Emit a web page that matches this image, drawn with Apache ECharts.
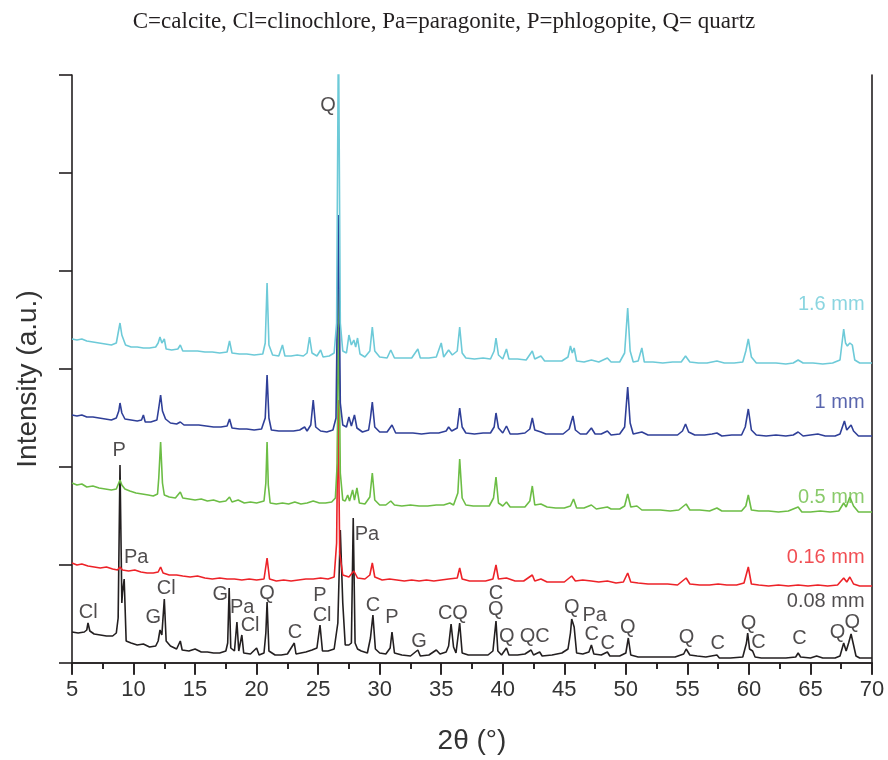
<!DOCTYPE html>
<html>
<head>
<meta charset="utf-8">
<script src="https://cdn.jsdelivr.net/npm/echarts@6/dist/echarts.min.js"></script>
<style>html,body{margin:0;padding:0;background:#fff}#c{width:888px;height:760px}</style>
</head>
<body>
<div id="c"></div>
<script>
const xTicks = [5,10,15,20,25,30,35,40,45,50,55,60,65,70];
const seriesNames = ['0.08 mm','0.16 mm','0.5 mm','1 mm','1.6 mm'];

const s008 = [[5.0,31],[5.5,30],[6.0,31],[6.2,33],[6.3,40],[6.45,32],[6.8,29],[7.3,28],[7.8,27],[8.3,27],[8.6,30],[8.75,45],[8.9,198],[9.05,60],[9.1,70],[9.24,84],[9.4,22],[9.8,20],[10.3,18],[10.8,19],[11.3,16],[11.8,17],[12.0,22],[12.15,33],[12.3,28],[12.5,64],[12.65,22],[13.0,17],[13.5,14],[13.8,22],[13.95,13],[14.5,12],[15.0,14],[15.5,11],[16.0,11],[16.5,10],[17.0,10],[17.5,12],[17.65,20],[17.77,75],[17.9,15],[18.2,12],[18.4,41],[18.55,12],[18.8,28],[18.95,10],[19.5,9],[20.0,15],[20.2,8],[20.6,10],[20.75,30],[20.85,61],[21.0,12],[21.5,8],[22.0,8],[22.5,9],[23.06,20],[23.2,9],[23.6,10],[24.0,11],[24.5,13],[24.9,15],[25.15,38],[25.35,12],[25.8,12],[26.3,14],[26.6,40],[26.8,133],[27.0,60],[27.2,18],[27.5,18],[27.7,20],[27.85,145],[28.0,20],[28.2,14],[28.5,12],[29.0,10],[29.25,25],[29.45,48],[29.65,14],[30.0,10],[30.5,9],[30.85,15],[31.0,31],[31.2,10],[31.8,8],[32.5,7],[33.1,13],[33.3,7],[34.0,8],[34.6,13],[34.9,9],[35.4,11],[35.6,17],[35.8,39],[36.0,16],[36.2,10],[36.5,40],[36.7,10],[37.2,8],[38.0,8],[38.8,8],[39.2,12],[39.45,42],[39.6,12],[39.9,8],[40.3,15],[40.5,8],[41.2,8],[41.8,9],[42.3,13],[42.5,8],[43.0,11],[43.2,7],[44.0,8],[44.8,10],[45.3,14],[45.5,30],[45.6,44],[45.8,36],[46.0,10],[46.5,9],[47.0,11],[47.2,18],[47.4,9],[48.0,8],[48.5,11],[48.7,7],[49.5,7],[50.0,10],[50.2,25],[50.4,8],[51.0,6],[52.0,6],[53.0,6],[54.0,6],[54.7,9],[54.9,14],[55.2,8],[55.8,7],[56.5,6],[57.4,8],[57.6,5],[58.5,5],[59.5,6],[59.8,20],[59.9,30],[60.05,14],[60.3,12],[60.5,6],[61.0,5],[62.0,5],[63.0,5],[63.8,6],[64.0,10],[64.2,6],[65.0,5],[65.5,7],[66.0,5],[67.0,5],[67.4,7],[67.7,20],[67.9,12],[68.1,20],[68.3,29],[68.5,18],[68.7,7],[69.0,5],[69.5,5],[70.0,5]];

const s016 = [[5.0,100],[5.4,98],[5.8,99],[6.3,97],[6.8,96],[7.3,95],[7.8,96],[8.3,94],[8.7,93],[8.9,96],[9.1,93],[9.6,92],[10.1,93],[10.6,91],[11.1,90],[11.6,90],[12.0,91],[12.2,96],[12.4,90],[12.9,88],[13.5,88],[14.0,87],[14.6,86],[15.2,87],[15.8,85],[16.4,84],[17.0,85],[17.6,84],[18.2,84],[18.8,83],[19.4,84],[20.0,83],[20.6,84],[20.85,105],[21.05,84],[21.6,82],[22.2,83],[22.8,82],[23.4,83],[24.0,84],[24.6,84],[25.2,85],[25.8,84],[26.3,86],[26.5,120],[26.62,263],[26.75,110],[27.0,88],[27.5,86],[27.9,92],[28.2,85],[28.8,84],[29.2,88],[29.4,100],[29.6,86],[30.2,83],[30.8,84],[31.4,83],[32.0,82],[32.6,83],[33.2,82],[33.8,83],[34.4,82],[35.0,83],[35.6,84],[36.3,85],[36.5,95],[36.7,84],[37.3,82],[38.0,82],[38.6,82],[39.2,84],[39.45,98],[39.65,84],[40.3,85],[41.0,82],[41.7,82],[42.4,88],[42.6,82],[43.1,84],[43.6,81],[44.3,81],[45.0,81],[45.6,87],[45.9,82],[46.5,83],[47.2,82],[47.8,81],[48.5,82],[49.2,80],[49.8,81],[50.15,90],[50.4,81],[51.0,80],[51.8,79],[52.6,79],[53.4,79],[54.2,78],[54.9,85],[55.2,79],[56.0,78],[56.8,78],[57.5,79],[58.2,78],[59.0,78],[59.6,80],[59.95,96],[60.2,79],[60.8,78],[61.6,77],[62.4,78],[63.2,77],[64.0,78],[64.8,77],[65.6,78],[66.4,77],[67.2,78],[67.7,85],[67.95,81],[68.2,86],[68.5,79],[69.0,77],[69.5,77],[70.0,77]];

const s05 = [[5.0,180],[5.4,178],[5.8,179],[6.2,176],[6.7,177],[7.2,175],[7.7,174],[8.2,173],[8.6,174],[8.8,180],[8.9,183],[9.05,178],[9.3,174],[9.7,172],[10.2,170],[10.7,169],[11.2,168],[11.6,167],[11.95,169],[12.05,185],[12.2,221],[12.35,180],[12.5,168],[12.9,166],[13.4,165],[13.8,171],[14.0,165],[14.5,164],[15.0,163],[15.5,164],[16.0,162],[16.5,163],[17.0,161],[17.5,162],[17.8,166],[18.0,161],[18.5,163],[19.0,160],[19.5,161],[20.0,160],[20.6,162],[20.75,180],[20.85,221],[20.95,178],[21.1,160],[21.6,159],[22.1,160],[22.6,159],[23.1,161],[23.6,159],[24.1,160],[24.6,162],[25.1,160],[25.6,160],[26.1,161],[26.4,165],[26.55,200],[26.65,373],[26.8,190],[27.0,163],[27.2,162],[27.4,168],[27.55,162],[27.8,173],[27.95,163],[28.15,175],[28.35,160],[28.8,159],[29.2,166],[29.4,190],[29.6,163],[30.0,158],[30.5,158],[30.9,162],[31.2,158],[31.8,157],[32.5,158],[33.2,157],[33.9,157],[34.6,158],[35.2,158],[35.7,160],[36.0,158],[36.35,170],[36.5,204],[36.7,165],[37.0,158],[37.6,157],[38.3,157],[38.9,157],[39.25,165],[39.45,186],[39.65,160],[40.0,157],[40.3,161],[40.6,156],[41.2,156],[41.8,156],[42.2,162],[42.4,177],[42.6,158],[43.1,159],[43.6,156],[44.3,155],[45.0,155],[45.5,157],[45.75,164],[46.0,155],[46.6,155],[47.2,158],[47.6,154],[48.5,156],[48.8,154],[49.5,154],[49.9,157],[50.15,169],[50.4,156],[50.9,157],[51.3,153],[52.0,153],[52.8,153],[53.6,152],[54.3,153],[54.9,159],[55.2,153],[56.0,153],[56.8,152],[57.4,155],[57.8,152],[58.6,152],[59.4,152],[59.75,157],[59.95,168],[60.2,153],[60.8,152],[61.6,152],[62.4,151],[63.2,152],[64.0,156],[64.3,151],[65.0,151],[65.8,152],[66.6,151],[67.3,152],[67.7,160],[67.9,156],[68.2,166],[68.5,157],[68.9,151],[69.5,151],[70.0,151]];

const s1 = [[5.0,248],[5.4,247],[5.8,248],[6.2,246],[6.7,246],[7.2,245],[7.7,244],[8.2,243],[8.6,245],[8.8,252],[8.9,260],[9.05,250],[9.3,244],[9.8,243],[10.3,242],[10.65,243],[10.8,248],[10.95,241],[11.4,241],[11.9,243],[12.05,255],[12.2,268],[12.35,252],[12.6,244],[13.0,240],[13.5,239],[13.8,241],[14.1,238],[14.7,238],[15.3,238],[15.9,237],[16.5,236],[17.1,236],[17.6,237],[17.8,244],[18.0,235],[18.6,234],[19.2,234],[19.8,233],[20.4,234],[20.7,245],[20.85,288],[21.0,245],[21.2,233],[21.8,232],[22.4,232],[23.0,232],[23.5,233],[23.9,236],[24.1,232],[24.4,238],[24.6,263],[24.8,236],[25.2,232],[25.7,231],[26.2,233],[26.45,245],[26.65,448],[26.8,260],[27.0,238],[27.3,236],[27.5,246],[27.7,237],[27.95,248],[28.15,235],[28.6,231],[29.1,233],[29.25,245],[29.4,261],[29.6,236],[30.0,231],[30.6,231],[31.0,238],[31.3,230],[32.0,230],[32.7,230],[33.4,229],[34.1,230],[34.8,230],[35.4,232],[35.6,236],[35.85,232],[36.3,235],[36.5,255],[36.7,236],[37.0,230],[37.7,229],[38.4,230],[39.0,230],[39.3,236],[39.45,250],[39.65,235],[40.0,230],[40.3,237],[40.6,229],[41.2,229],[41.8,230],[42.2,234],[42.4,245],[42.6,233],[43.1,231],[43.5,229],[44.2,229],[44.9,229],[45.4,234],[45.7,247],[45.9,233],[46.3,229],[46.8,229],[47.2,235],[47.5,229],[48.0,229],[48.5,232],[48.8,228],[49.5,229],[49.9,236],[50.15,276],[50.35,240],[50.6,229],[51.3,231],[51.8,228],[52.6,228],[53.4,228],[54.2,228],[54.6,232],[54.85,239],[55.1,231],[55.6,228],[56.4,228],[57.0,229],[57.4,230],[57.8,227],[58.6,228],[59.4,228],[59.7,236],[59.95,254],[60.2,233],[60.6,228],[61.4,227],[62.2,228],[63.0,227],[63.6,228],[64.0,231],[64.4,227],[65.0,228],[65.6,229],[66.2,227],[67.0,227],[67.4,229],[67.76,242],[67.95,233],[68.3,238],[68.5,232],[68.9,227],[69.5,227],[70.0,227]];

const s16 = [[5.0,324],[5.4,323],[5.8,324],[6.2,322],[6.7,321],[7.2,320],[7.7,319],[8.2,318],[8.6,320],[8.75,330],[8.9,340],[9.05,328],[9.2,330],[9.35,318],[9.8,316],[10.3,316],[10.8,315],[11.3,315],[11.8,316],[12.0,320],[12.15,326],[12.3,320],[12.5,324],[12.65,314],[13.1,313],[13.6,314],[13.8,318],[14.0,312],[14.6,312],[15.2,312],[15.8,311],[16.4,311],[17.0,310],[17.6,311],[17.8,322],[18.0,310],[18.6,309],[19.2,309],[19.8,308],[20.5,309],[20.7,320],[20.85,380],[21.0,318],[21.3,308],[21.8,307],[22.1,318],[22.3,307],[22.8,307],[23.3,308],[23.8,307],[24.1,310],[24.3,326],[24.5,310],[24.9,307],[25.2,313],[25.4,306],[25.9,307],[26.3,310],[26.5,340],[26.65,640],[26.8,340],[27.0,312],[27.3,310],[27.5,328],[27.7,318],[27.9,323],[28.05,316],[28.2,325],[28.4,309],[28.8,306],[29.2,312],[29.4,336],[29.6,312],[30.0,306],[30.6,305],[30.9,313],[31.2,305],[31.9,305],[32.6,305],[33.1,314],[33.3,305],[34.0,305],[34.6,306],[35.0,320],[35.2,306],[35.6,313],[35.9,308],[36.3,312],[36.5,336],[36.7,310],[37.0,305],[37.7,304],[38.4,305],[39.0,304],[39.3,312],[39.45,325],[39.65,308],[40.0,304],[40.3,314],[40.5,304],[41.2,304],[41.9,303],[42.4,312],[42.6,304],[43.1,307],[43.4,302],[44.1,302],[44.8,302],[45.3,306],[45.5,317],[45.65,310],[45.8,315],[46.0,302],[46.6,301],[47.2,303],[47.8,301],[48.5,305],[48.8,301],[49.5,301],[49.9,310],[50.15,355],[50.35,312],[50.6,301],[51.0,302],[51.3,315],[51.5,301],[52.2,301],[53.0,300],[53.8,301],[54.5,301],[54.85,307],[55.2,301],[55.9,300],[56.6,300],[57.4,302],[58.0,300],[58.8,300],[59.5,301],[59.75,312],[59.95,324],[60.2,306],[60.6,300],[61.4,300],[62.2,300],[63.0,299],[63.6,300],[64.0,303],[64.4,300],[65.2,300],[66.0,299],[66.8,300],[67.4,303],[67.7,334],[67.85,320],[68.0,317],[68.2,320],[68.4,318],[68.6,303],[69.0,300],[69.5,300],[70.0,300]];

const peakLabels = [[6.32,51,'Cl'],[8.84,213,'P'],[10.22,106,'Pa'],[11.6,46,'G'],[12.65,75,'Cl'],[17.04,69,'G'],[18.83,56,'Pa'],[19.47,38,'Cl'],[20.85,70,'Q'],[23.12,31,'C'],[25.15,68,'P'],[25.32,48,'Cl'],[28.97,129,'Pa'],[29.46,58,'C'],[31.0,46,'P'],[33.19,22,'G'],[35.95,50,'CQ'],[39.44,70,'C'],[39.44,54,'Q'],[40.33,27,'Q'],[42.6,27,'QC'],[45.6,56,'Q'],[47.47,48,'Pa'],[47.23,29,'C'],[48.53,20,'C'],[50.15,36,'Q'],[54.94,26,'Q'],[57.46,20,'C'],[59.97,40,'Q'],[60.78,21,'C'],[64.1,25,'C'],[67.2,31,'Q'],[68.4,41,'Q'],[25.8,558,'Q']];

const nameLabelPos = [[69.4,62],[69.4,106],[69.4,166],[69.4,261],[69.4,359]];

const colors = ['#231f20','#ed2228','#6cbd45','#2f3f98','#6dcad8'];
const FONT = 'Liberation Sans, Arial, sans-serif';

const chart = echarts.init(document.getElementById('c'), null, {renderer:'canvas'});
const allData = [s008, s016, s05, s1, s16];

const series = allData.map((d,i)=>({
  type:'line', name:seriesNames[i], data:d, showSymbol:false, symbol:'none',
  lineStyle:{color:colors[i], width:1.6}, clip:true, animation:false, z:2+i
}));

series.push({
  type:'scatter', name:'peaks', symbolSize:0, animation:false, z:20, silent:true,
  data: peakLabels.map(p=>({value:[p[0],p[1]], name:p[2]})),
  label:{show:true, position:'inside', formatter:p=>p.name, color:'#231f20', fontFamily:FONT, fontSize:20}
});
series.push({
  type:'scatter', name:'names', symbolSize:0, animation:false, z:20, silent:true,
  data: nameLabelPos.map((p,i)=>({value:p, name:seriesNames[i], label:{color:colors[i]}})),
  label:{show:true, position:'left', distance:0, formatter:p=>p.name, fontFamily:FONT, fontSize:20}
});

const axisLine = {show:true, lineStyle:{color:'#231f20', width:1.6}};
chart.setOption({
  animation:false,
  backgroundColor:'#fff',
  title:{text:'C=calcite, Cl=clinochlore, Pa=paragonite, P=phlogopite, Q= quartz', left:'center', top:5,
    textStyle:{fontFamily:'Liberation Serif, Times New Roman, serif', fontWeight:'normal', fontSize:23, color:'#231f20'}},
  grid:{left:72, right:16, top:75, bottom:97, containLabel:false},
  xAxis:[
    {type:'value', min:5, max:70, interval:5, position:'bottom',
     axisLine:axisLine, axisTick:{show:true, inside:false, length:11, lineStyle:{color:'#231f20', width:1.6}},
     minorTick:{show:true, splitNumber:2, length:6, lineStyle:{color:'#231f20', width:1.6}},
     splitLine:{show:false},
     axisLabel:{show:true, margin:16, fontFamily:FONT, fontSize:22, color:'#333',
       formatter:v=>xTicks.indexOf(v)>=0?String(v):''},
     name:'2\u03b8 (\u00b0)', nameLocation:'middle', nameGap:64,
     nameTextStyle:{fontFamily:FONT, fontSize:28, color:'#333'}},
    {type:'value', min:5, max:70, interval:5, position:'top',
     axisLine:axisLine, axisTick:{show:true, inside:true, length:12, lineStyle:{color:'#231f20', width:1.6}},
     minorTick:{show:true, splitNumber:2, length:6, lineStyle:{color:'#231f20', width:1.6}},
     splitLine:{show:false}, axisLabel:{show:false}}
  ],
  yAxis:[
    {type:'value', min:0, max:588, interval:98, position:'left',
     axisLine:axisLine, axisTick:{show:true, inside:false, length:13, lineStyle:{color:'#231f20', width:1.6}},
     splitLine:{show:false}, axisLabel:{show:false},
     name:'Intensity (a.u.)', nameLocation:'middle', nameGap:30,
     nameTextStyle:{fontFamily:FONT, fontSize:28, color:'#333', padding:[0,20,0,0]}},
    {type:'value', min:0, max:588, interval:98, position:'right',
     axisLine:axisLine, axisTick:{show:false}, splitLine:{show:false}, axisLabel:{show:false}}
  ],
  series:series
});
</script>
</body>
</html>
